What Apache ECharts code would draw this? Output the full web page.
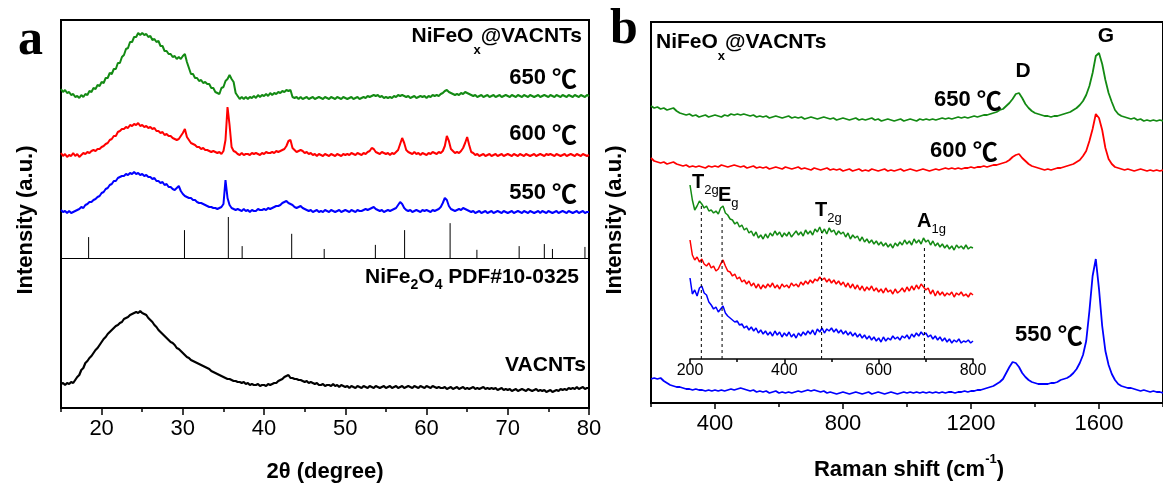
<!DOCTYPE html>
<html>
<head>
<meta charset="utf-8">
<script src="https://cdn.jsdelivr.net/npm/echarts@6/dist/echarts.min.js"></script>
<style>
  html, body { margin: 0; padding: 0; background: #fff; }
  #chart { width: 1163px; height: 488px; }
</style>
</head>
<body>
<div id="chart"></div>
<script>
// ---------- Panel a: XRD, 2θ sampled every 0.25° from 15° to 80° (intensity above each trace's baseline, a.u.) ----------
const xrd650 = [
  8, 5, 7, 4,   5, 2, 3, 0,   1, -1, 2, 0,   3, 2, 6, 5,   9, 8, 12, 11,        // 15–19
  15, 14, 19, 19,   24, 23, 28, 28,   34, 34, 40, 42,   48, 49, 55, 55,   60, 60, 64, 62, // 20–24
  64, 62, 63, 60,   61, 57, 58, 55,   56, 51, 51, 46,   46, 43, 43, 40,   41, 38, 40, 38, // 25–29
  41, 43, 35, 29,   23, 23, 19, 19,   16, 17, 14, 15,   13, 13, 9, 9,   5, 4, 3, 9,         // 30–34
  10, 16, 18, 22,   18, 15, 4, 1,   -2, 0, -2, 0,   -2, 0, -1, 1,   -1, 2, 0, 2,            // 35–39
  1, 3, 1, 4,   2, 4, 3, 5,   4, 6, 5, 7,   6, 7, 0, -1,   0, -2, 0, -2,                    // 40–44
  -1, 0, -2, -1,   0, -2, -1, 0,   -1, -2, 0, -1,   -2, 0, -1, -2,   0, -1, -2, 0,          // 45–49
  -1, -2, -1, 0,   -2, -1, 0, -2,   -1, 0, -1, 1,   0, 1, 2, 1,   2, 0, 1, -1,              // 50–54
  0, -1, 0, -1,   1, 0, 2, 1,   2, 1, 0, 1,   -1, 0, 1, -1,   0, 1, 0, 1,                   // 55–59
  -1, 1, 0, 2,   1, 2, 1, 3,   4, 6, 7, 5,   4, 3, 2, 3,   2, 4, 3, 5,                      // 60–64
  4, 3, 2, 1,   2, 0, 1, 2,   0, 1, 2, 0,   1, 2, 0, 1,   2, 0, 1, 2,                       // 65–69
  1, 0, 2, 1,   0, 2, 1, 0,   2, 1, 0, 2,   1, 0, 1, 2,   0, 1, 2, 1,                       // 70–74
  0, 2, 1, 0,   2, 1, 0, 2,   1, 0, 2, 1,   0, 2, 1, 0,   2, 1, 0, 2,                       // 75–79
  1                                                                                          // 80
];
const xrd600 = [
  2, -1, 1, -2,   0, -1, 2, -1,   1, -2, 0, 2,   1, 3, 2, 4,   5, 4, 6, 6,                   // 15–19
  8, 9, 11, 12,   15, 16, 19, 19,   23, 24, 26, 26,   28, 27, 30, 29,   31, 30, 32, 29,     // 20–24
  30, 28, 29, 27,   28, 26, 27, 24,   24, 22, 23, 20,   21, 19, 19, 17,   16, 15, 16, 19,   // 25–29
  22, 26, 18, 15,   12, 11, 10, 8,   8, 6, 7, 5,   5, 4, 3, 4,   3, 2, 3, 1,                // 30–34
  4, 15, 48, 30,   8, 4, 3, 1,   0, 2, 0, 1,   1, 0, 2, 1,   2, 1, 0, 2,                    // 35–39
  1, 3, 2, 2,   3, 2, 4, 3,   4, 5, 6, 9,   14, 15, 7, 5,   3, 4, 5, 4,                     // 40–44
  2, 3, 1, 2,   0, 1, -1, 1,   0, -1, 1, 0,   -1, 1, 0, -1,   1, 0, -1, 1,                  // 45–49
  0, 1, 0, 2,   1, 0, 2, 1,   0, 2, 1, 3,   4, 7, 6, 3,   2, 1, 3, 2,                       // 50–54
  1, 2, 0, 2,   1, 3, 5, 11,   17, 12, 5, 3,   2, 1, 3, 1,   2, 0, 2, 1,                    // 55–59
  0, 2, 1, 3,   2, 1, 3, 2,   4, 9, 19, 14,   6, 4, 2, 3,   2, 4, 7, 12,                    // 60–64
  18, 10, 3, 2,   0, 1, -1, 0,   1, -1, 0, 1,   -1, 0, 1, -1,   0, 1, -1, 0,                // 65–69
  1, 0, -1, 1,   0, -1, 1, 0,   -1, 1, 0, -1,   0, 1, -1, 0,   1, 0, -1, 1,                 // 70–74
  0, 1, 0, -1,   1, 0, -1, 0,   1, -1, 0, 1,   0, -1, 1, 0,   -1, 1, 0, -1,                 // 75–79
  0                                                                                          // 80
];
const xrd550 = [
  2, 0, 1, -1,   1, -1, 0, 1,   2, 3, 5, 4,   7, 8, 10, 10,   12, 13, 15, 16,              // 15–19
  19, 20, 23, 24,   27, 28, 31, 31,   34, 35, 36, 36,   38, 37, 39, 38,   40, 38, 39, 37, // 20–24
  38, 36, 37, 35,   35, 33, 34, 31,   31, 29, 30, 27,   28, 25, 25, 23,   22, 24, 26, 21, // 25–29
  18, 16, 15, 14,   14, 12, 12, 10,   9, 9, 8, 7,   6, 5, 5, 4,   4, 3, 4, 5,               // 30–34
  8, 32, 14, 7,   4, 3, 2, 3,   2, 1, 3, 1,   2, 0, 2, 1,   1, 3, 2, 2,                     // 35–39
  3, 2, 4, 3,   4, 5, 6, 6,   7, 9, 10, 11,   9, 8, 7, 5,   4, 5, 6, 4,                     // 40–44
  3, 2, 1, 2,   0, 1, 2, 0,   1, 0, 2, 1,   0, 2, 1, 0,   1, 2, 0, 1,                       // 45–49
  2, 1, 0, 2,   1, 0, 2, 1,   1, 2, 3, 2,   3, 4, 5, 3,   2, 1, 2, 0,                       // 50–54
  1, 2, 1, 2,   3, 4, 7, 10,   8, 4, 2, 1,   2, 0, 1, 2,   1, 0, 2, 1,                      // 55–59
  2, 1, 0, 2,   1, 2, 3, 5,   9, 14, 12, 6,   3, 2, 1, 2,   3, 2, 4, 3,                     // 60–64
  2, 1, 0, 1,   -1, 0, 1, -1,   0, 1, -1, 0,   1, -1, 0, 1,   0, -1, 1, 0,                  // 65–69
  -1, 0, 1, -1,   0, 1, 0, -1,   1, 0, -1, 1,   0, -1, 0, 1,   -1, 1, 0, -1,                // 70–74
  1, 0, -1, 0,   1, -1, 0, 1,   0, -1, 1, 0,   -1, 0, 1, -1,   0, 1, -1, 0,                 // 75–79
  0                                                                                          // 80
];
const xrdVACNT = [
  6, 7, 5, 7,   6, 8, 7, 10,   13, 15, 20, 22,   27, 29, 32, 34,   37, 40, 42, 45,        // 15–19
  48, 51, 53, 56,   58, 60, 62, 64,   65, 67, 68, 71,   72, 73, 75, 76,   77, 78, 77, 79, // 20–24
  77, 76, 75, 72,   70, 68, 65, 63,   60, 58, 56, 54,   52, 50, 48, 47,   45, 42, 41, 39, // 25–29
  37, 35, 33, 32,   30, 29, 28, 27,   26, 25, 24, 23,   22, 21, 19, 18,   17, 16, 15, 14, // 30–34
  13, 12, 11, 11,   10, 9, 9, 8,   8, 7, 8, 6,   7, 5, 6, 5,   5, 6, 4, 5,                 // 35–39
  5, 4, 6, 5,   6, 7, 7, 9,   10, 11, 13, 14,   15, 12, 12, 11,   11, 10, 10, 9,         // 40–44
  8, 9, 7, 8,   7, 6, 7, 5,   5, 6, 4, 5,   5, 4, 6, 4,   5, 3, 5, 4,                       // 45–49
  3, 4, 2, 4,   3, 2, 4, 3,   2, 4, 3, 2,   4, 3, 2, 4,   3, 2, 3, 4,                       // 50–54
  2, 3, 4, 2,   3, 4, 2, 3,   4, 2, 3, 4,   3, 2, 4, 3,   2, 4, 3, 2,                       // 55–59
  4, 3, 2, 4,   3, 2, 3, 2,   2, 3, 1, 2,   3, 1, 2, 3,   1, 2, 3, 1,                       // 60–64
  2, 1, 2, 3,   1, 2, 1, 2,   3, 1, 2, 1,   2, 1, 2, 0,   1, 2, 0, 1,                       // 65–69
  0, 1, -1, 0,   1, -1, 0, 1,   0, -1, 1, 0,   -1, 0, 1, -1,   0, -1, 0, -2,              // 70–74
  -1, 0, -2, -1,   0, -1, 1, 0,   1, 0, 2, 1,   2, 1, 3, 1,   2, 3, 1, 2,                   // 75–79
  2                                                                                          // 80
];
// NiFe2O4 reference pattern (PDF#10-0325): peak positions (2θ) and relative intensities (%)
const refTwoTheta = [18.4, 30.2, 35.6, 37.3, 43.4, 47.4, 53.7, 57.3, 62.9, 66.2, 71.4, 74.5, 75.5, 79.5];
const refIntensity = [51, 68, 100, 29, 59, 22, 32, 68, 85, 20, 29, 34, 22, 27];

// ---------- Panel b: Raman, 200–1800 cm-1 every 10 cm-1 ----------
const raman650 = [
  14, 12, 13, 11, 12, 10, 11, 12, 9, 7,      // 200–290
  6, 5, 6, 4, 5, 3, 4, 5, 3, 4,              // 300–390
  5, 4, 3, 5, 4, 6, 5, 6, 5, 6,              // 400–490
  5, 4, 5, 3, 4, 3, 4, 2, 3, 4,              // 500–590
  3, 2, 3, 4, 2, 3, 2, 3, 1, 2,              // 600–690
  3, 2, 1, 2, 3, 2, 1, 2, 0, 1,              // 700–790
  2, 1, 0, 1, 2, 0, 1, 0, 1, 2,              // 800–890
  0, 1, -1, 0, 1, 0, -1, 0, 1, -1,           // 900–990
  0, 1, 0, -1, 1, 0, 1, 0, 1, 0,             // 1000–1090
  1, 2, 1, 2, 1, 2, 3, 2, 3, 2,              // 1100–1190
  3, 4, 3, 4, 5, 5, 6, 7, 8, 10,             // 1200–1290
  11, 14, 17, 21, 26, 27, 22, 16, 12, 9,     // 1300–1390
  7, 6, 5, 4, 4, 3, 4, 4, 5, 6,              // 1400–1490
  7, 8, 10, 12, 15, 19, 25, 34, 47, 64,      // 1500–1590
  67, 56, 40, 27, 18, 10, 6, 4, 3, 2,        // 1600–1690
  1, 2, 0, 1, -1, 0, -1, 0, -1, 0,           // 1700–1790
  -1                                         // 1800
];
const raman600 = [
  12, 9, 8, 7, 8, 6, 7, 8, 6, 5,
  4, 5, 3, 4, 3, 4, 3, 2, 4, 3,
  4, 3, 5, 4, 3, 4, 5, 4, 3, 4,
  2, 3, 4, 2, 3, 2, 3, 1, 2, 3,
  2, 1, 3, 2, 1, 2, 3, 1, 2, 1,
  0, 2, 1, 0, 1, 2, 0, 1, 0, 1,
  -1, 0, 1, -1, 0, 1, -1, 0, -1, 1,
  0, -1, 0, 1, -1, 0, -1, 0, 1, -1,
  0, 1, 0, -1, 0, 1, 0, -1, 0, 1,
  0, 1, 2, 1, 2, 1, 2, 1, 2, 2,
  3, 2, 3, 3, 4, 3, 4, 5, 5, 6,
  7, 8, 10, 13, 15, 16, 12, 9, 6, 4,
  3, 2, 1, 0, 1, 0, 1, 2, 2, 3,
  4, 5, 6, 8, 10, 14, 19, 29, 41, 56,
  52, 40, 22, 11, 6, 3, 2, 1, 0, 1,
  0, -1, 0, 1, 0, -1, 0, -1, 0, -1,
  0
];
const raman550 = [
  14, 15, 14, 15, 12, 10, 8, 7, 6, 6,
  5, 4, 4, 3, 4, 3, 3, 2, 3, 2,
  3, 2, 3, 2, 3, 4, 3, 4, 5, 4,
  3, 2, 3, 1, 2, 1, 2, 0, 1, 2,
  0, 1, 0, 1, 0, 1, 2, 1, 2, 3,
  2, 3, 2, 1, 2, 0, 1, 0, -1, 0,
  1, 0, -1, 0, 1, 0, -1, 0, 1, -1,
  0, 1, 0, -1, 0, 1, 0, -1, 0, 1,
  0, 1, 0, 1, 0, 1, 0, 1, 0, 1,
  0, 1, 0, 1, 1, 0, 1, 1, 2, 1,
  2, 2, 3, 3, 4, 5, 6, 7, 9, 11,
  14, 20, 26, 31, 30, 26, 20, 16, 13, 11,
  10, 9, 9, 9, 9, 10, 10, 11, 13, 14,
  15, 17, 20, 24, 30, 38, 52, 82, 117, 134,
  104, 67, 42, 28, 19, 13, 9, 7, 6, 5,
  5, 4, 3, 2, 3, 2, 1, 2, 1, 1,
  0
];

// ---------- Inset: low-wavenumber Raman, 200–800 cm-1 every 5 cm-1 ----------
const inset650 = [
  63, 48, 38, 42, 47, 44, 40, 42, 37, 38,    // 200–245
  35, 37, 34, 40, 42, 35, 33, 29, 28, 24,    // 250–295
  26, 21, 23, 18, 20, 15, 17, 12, 16, 10,    // 300–345
  13, 9, 14, 10, 15, 12, 17, 13, 16, 11,     // 350–395
  15, 12, 16, 11, 14, 17, 13, 16, 12, 18,    // 400–445
  14, 17, 13, 19, 16, 21, 15, 19, 14, 20,    // 450–495
  16, 18, 13, 17, 14, 16, 11, 15, 9, 13,     // 500–545
  10, 12, 7, 11, 6, 9, 5, 8, 4, 7,           // 550–595
  3, 6, 2, 5, 1, 4, 0, 5, 2, 6,              // 600–645
  3, 8, 4, 7, 3, 9, 5, 8, 4, 10,             // 650–695
  6, 8, 3, 7, 2, 5, 1, 4, 0, 3,              // 700–745
  -1, 2, -2, 3, 0, 2, -1, 3, -1, 1,          // 750–795
  0                                          // 800
];
const inset600 = [
  53, 38, 33, 36, 31, 34, 29, 27, 30, 25,
  27, 22, 24, 29, 33, 27, 22, 21, 17, 19,
  14, 16, 11, 13, 9, 12, 7, 10, 5, 9,
  4, 8, 5, 9, 6, 10, 5, 8, 4, 9,
  6, 8, 5, 10, 7, 9, 6, 11, 8, 12,
  9, 13, 10, 14, 12, 16, 13, 15, 11, 14,
  10, 13, 9, 12, 8, 11, 6, 10, 5, 9,
  4, 8, 3, 7, 2, 6, 3, 7, 2, 5,
  1, 4, 0, 5, 1, 3, -1, 4, 0, 2,
  5, 1, 6, 2, 7, 3, 8, 4, 9, 6,
  3, 5, -1, 3, -3, 2, -2, 1, -3, 0,
  -2, 1, -4, 0, -2, 1, -3, -1, -4, 0,
  -2
];
const inset550 = [
  62, 46, 50, 44, 52, 54, 47, 45, 38, 35,
  31, 33, 28, 31, 34, 27, 24, 22, 20, 18,
  19, 15, 16, 12, 14, 10, 13, 9, 12, 7,
  10, 6, 9, 5, 8, 4, 9, 5, 8, 3,
  7, 4, 8, 3, 6, 2, 7, 4, 8, 5,
  9, 6, 10, 5, 11, 8, 12, 7, 11, 9,
  12, 8, 11, 7, 10, 6, 9, 5, 8, 4,
  7, 3, 6, 2, 5, 1, 4, 0, 3, -1,
  2, -2, 3, -1, 2, 0, 4, 1, 3, 0,
  4, 2, 5, 1, 6, 3, 7, 4, 8, 5,
  7, 3, 5, 1, 4, 0, 3, -1, 2, -2,
  1, -3, 0, -2, 1, -3, -1, -2, 0, -3,
  -1
];
// Spinel Raman modes marked in the inset: position (cm-1) and top of the guide
const modeShift = [224, 268, 479, 697];
const modeHeight = [154, 141, 127, 114];

// Axis tick values
const xrdMajorTicks = [20, 30, 40, 50, 60, 70, 80];
const xrdMinorTicks = [15, 25, 35, 45, 55, 65, 75];
const ramanMajorTicks = [400, 800, 1200, 1600];
const ramanMinorTicks = [200, 600, 1000, 1400, 1800];
const insetMajorTicks = [200, 400, 600, 800];
const insetMinorTicks = [300, 500, 700];

// ---------- sampling grids ----------
const twoTheta = xrd650.map((_, i) => 15 + i * 0.25);
const ramanShift = raman650.map((_, i) => 200 + i * 10);
const insetShift = inset650.map((_, i) => 200 + i * 5);

// vertical stacking offsets of the traces
const OFFSET_A = { t650: 311, t600: 253, t550: 196, vacnt: 18 };
const REF_BASE = 150, REF_SCALE = 0.41;
const OFFSET_B = { t650: 283, t600: 233, t550: 10 };
const OFFSET_INSET = { t650: 111, t600: 66, t550: 19 };

const SANS = "'Liberation Sans', Arial, Helvetica, sans-serif";
const SERIF = "'Liberation Serif', 'Times New Roman', serif";
const CJK = "'Noto Sans CJK SC', 'DejaVu Sans', sans-serif";
const GREEN = '#138a13', RED = '#ff0000', BLUE = '#0000ff', BLACK = '#000000';

function trace(xs, ys, offset, color, axis, width) {
  return {
    type: 'line', xAxisIndex: axis, yAxisIndex: axis === 0 ? 0 : (axis === 2 ? 1 : 2),
    data: ys.map((v, i) => [xs[i], v + offset]),
    showSymbol: false, symbol: 'none', silent: true, z: 3,
    lineStyle: { color, width, join: 'bevel' }, itemStyle: { color }
  };
}

function xAxisBase(grid, min, max, ticks, labels, tickLen, fontSize, margin, showLine, lineW) {
  return {
    gridIndex: grid, type: 'value', min, max, position: 'bottom',
    axisLine: { show: showLine, onZero: false, lineStyle: { color: '#000', width: lineW } },
    axisTick: { show: true, customValues: ticks, length: tickLen, lineStyle: { color: '#000', width: 1.5 } },
    axisLabel: labels
      ? { show: true, customValues: labels, fontSize, color: '#000', fontFamily: SANS, margin, formatter: v => String(v) }
      : { show: false },
    splitLine: { show: false }
  };
}

// rich-text styles (sub/superscripts, ℃)
const richLabel = {
  m: { fontSize: 21, fontWeight: 'bold', fontFamily: SANS, lineHeight: 42, color: '#000' },
  s: { fontSize: 13, fontWeight: 'bold', fontFamily: SANS, lineHeight: 14, verticalAlign: 'bottom', color: '#000' }
};
const richFormula = {
  m: { fontSize: 21, fontWeight: 'bold', fontFamily: SANS, lineHeight: 31, color: '#000' },
  s: { fontSize: 14, fontWeight: 'bold', fontFamily: SANS, lineHeight: 14, verticalAlign: 'bottom', color: '#000' }
};
const richTemp = {
  m: { fontSize: 22, fontWeight: 'bold', fontFamily: SANS, lineHeight: 30, color: '#000' },
  c: { fontSize: 25, fontWeight: 'bold', fontFamily: CJK, lineHeight: 30, color: '#000' }
};
const richMode = {
  m: { fontSize: 20, fontWeight: 'bold', fontFamily: SANS, lineHeight: 29, color: '#000' },
  s: { fontSize: 13, fontWeight: 'normal', fontFamily: SANS, lineHeight: 13, verticalAlign: 'bottom', color: '#000' }
};
const richAxis = {
  m: { fontSize: 22, fontWeight: 'bold', fontFamily: SANS, lineHeight: 34, color: '#000' },
  p: { fontSize: 13, fontWeight: 'bold', fontFamily: SANS, lineHeight: 13, verticalAlign: 'top', color: '#000' }
};

function txt(x, y, text, rich, align, extra) {
  return Object.assign({
    type: 'text', x, y, z: 50, silent: true,
    style: { text, rich, align, verticalAlign: 'middle', fill: '#000' }
  }, extra || {});
}
function plain(x, y, text, font, align, extra) {
  return Object.assign({
    type: 'text', x, y, z: 50, silent: true,
    style: { text, font, align, verticalAlign: 'middle', fill: '#000' }
  }, extra || {});
}

const chart = echarts.init(document.getElementById('chart'), null, { renderer: 'canvas' });

chart.setOption({
  animation: false,
  backgroundColor: '#ffffff',
  grid: [
    { left: 61, top: 20, width: 528, height: 388, show: true, borderColor: '#000', borderWidth: 2, backgroundColor: 'transparent' },
    { left: 651, top: 22, width: 520, height: 381, show: true, borderColor: '#000', borderWidth: 2, backgroundColor: 'transparent' },
    { left: 690, top: 175, width: 283, height: 184, show: false }
  ],
  xAxis: [
    xAxisBase(0, 15, 80, xrdMajorTicks, xrdMajorTicks, 7, 22, 10, true, 2),
    xAxisBase(0, 15, 80, xrdMinorTicks, null, 4, 0, 0, false, 0),
    xAxisBase(1, 200, 1800, ramanMajorTicks, ramanMajorTicks, 6, 22, 10, true, 2),
    xAxisBase(1, 200, 1800, ramanMinorTicks, null, 4, 0, 0, false, 0),
    xAxisBase(2, 200, 800, insetMajorTicks, insetMajorTicks, 5, 16, 4, true, 1.5),
    xAxisBase(2, 200, 800, insetMinorTicks, null, 3, 0, 0, false, 0)
  ],
  yAxis: [
    { gridIndex: 0, type: 'value', min: 0, max: 388, show: false },
    { gridIndex: 1, type: 'value', min: 0, max: 381, show: false },
    { gridIndex: 2, type: 'value', min: 0, max: 184, show: false }
  ],
  series: [
    trace(twoTheta, xrd650, OFFSET_A.t650, GREEN, 0, 2),
    trace(twoTheta, xrd600, OFFSET_A.t600, RED, 0, 2),
    trace(twoTheta, xrd550, OFFSET_A.t550, BLUE, 0, 2),
    trace(twoTheta, xrdVACNT, OFFSET_A.vacnt, BLACK, 0, 2.2),
    {
      // reference stick pattern on its own baseline
      type: 'custom', xAxisIndex: 0, yAxisIndex: 0, silent: true, z: 4,
      data: refTwoTheta.map((t, i) => [t, refIntensity[i]]),
      encode: { x: 0, y: 1 },
      renderItem: (params, api) => {
        const p0 = api.coord([api.value(0), REF_BASE]);
        const p1 = api.coord([api.value(0), REF_BASE + api.value(1) * REF_SCALE]);
        return { type: 'line', shape: { x1: p0[0], y1: p0[1], x2: p1[0], y2: p1[1] }, style: { stroke: '#000', lineWidth: 1 } };
      },
      markLine: {
        silent: true, symbol: 'none', label: { show: false },
        lineStyle: { color: '#000', width: 1.2, type: 'solid' },
        data: [{ yAxis: REF_BASE }]
      }
    },
    trace(ramanShift, raman650, OFFSET_B.t650, GREEN, 2, 1.8),
    trace(ramanShift, raman600, OFFSET_B.t600, RED, 2, 1.8),
    trace(ramanShift, raman550, OFFSET_B.t550, BLUE, 2, 1.8),
    trace(insetShift, inset650, OFFSET_INSET.t650, GREEN, 4, 1.5),
    trace(insetShift, inset600, OFFSET_INSET.t600, RED, 4, 1.5),
    trace(insetShift, inset550, OFFSET_INSET.t550, BLUE, 4, 1.5),
    {
      // dashed guides for the spinel modes
      type: 'custom', xAxisIndex: 4, yAxisIndex: 2, silent: true, z: 6,
      data: modeShift.map((v, i) => [v, modeHeight[i]]),
      encode: { x: 0, y: 1 },
      renderItem: (params, api) => {
        const p0 = api.coord([api.value(0), 0]);
        const p1 = api.coord([api.value(0), api.value(1)]);
        return { type: 'line', shape: { x1: p0[0], y1: p0[1], x2: p1[0], y2: p1[1] }, style: { stroke: '#000', lineWidth: 1, lineDash: [3, 3] } };
      }
    }
  ],
  graphic: [
    // panel letters
    plain(18, 41, 'a', 'bold 50px ' + SERIF, 'left'),
    plain(610, 30, 'b', 'bold 50px ' + SERIF, 'left'),
    // axis titles
    plain(325, 472, '2θ (degree)', 'bold 22px ' + SANS, 'center'),
    txt(909, 470, '{m|Raman shift (cm}{p|-1}{m|)}', richAxis, 'center'),
    plain(26, 220, 'Intensity (a.u.)', 'bold 22px ' + SANS, 'center', { rotation: Math.PI / 2 }),
    plain(615, 220, 'Intensity (a.u.)', 'bold 22px ' + SANS, 'center', { rotation: Math.PI / 2 }),
    // panel a annotations
    txt(582, 36, '{m|NiFeO}{s|x}{m|@VACNTs}', richLabel, 'right'),
    txt(577, 78, '{m|650 }{c|℃}', richTemp, 'right'),
    txt(577, 134, '{m|600 }{c|℃}', richTemp, 'right'),
    txt(577, 193, '{m|550 }{c|℃}', richTemp, 'right'),
    txt(579, 277, '{m|NiFe}{s|2}{m|O}{s|4}{m| PDF#10-0325}', richFormula, 'right'),
    plain(586, 365, 'VACNTs', 'bold 21px ' + SANS, 'right'),
    // panel b annotations
    txt(656, 42, '{m|NiFeO}{s|x}{m|@VACNTs}', richLabel, 'left'),
    txt(934, 100, '{m|650 }{c|℃}', richTemp, 'left'),
    txt(930, 151, '{m|600 }{c|℃}', richTemp, 'left'),
    txt(1015, 335, '{m|550 }{c|℃}', richTemp, 'left'),
    plain(1023, 71, 'D', 'bold 21px ' + SANS, 'center'),
    plain(1106, 36, 'G', 'bold 21px ' + SANS, 'center'),
    // inset mode labels
    txt(692, 182, '{m|T}{s|2g}', richMode, 'left'),
    txt(718, 195, '{m|E}{s|g}', richMode, 'left'),
    txt(815, 210, '{m|T}{s|2g}', richMode, 'left'),
    txt(917, 221, '{m|A}{s|1g}', richMode, 'left')
  ]
});
</script>
</body>
</html>
